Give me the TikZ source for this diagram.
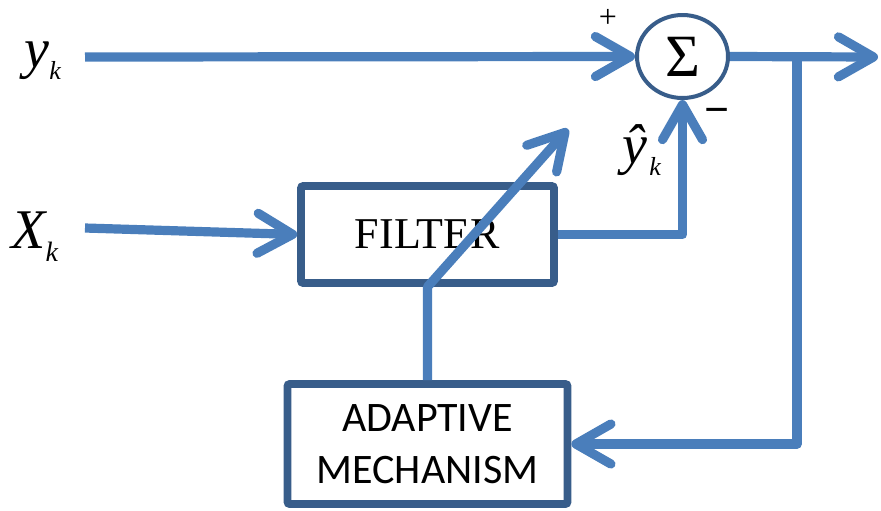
\documentclass[tikz,border=0pt]{standalone}
\usepackage{fontspec}
\setmainfont{Liberation Serif}
\newfontfamily\calibri{Carlito}
\usetikzlibrary{arrows.meta,shapes.geometric}
\definecolor{lineblue}{RGB}{74,126,187}
\definecolor{boxblue}{RGB}{56,93,138}

\begin{document}
\begin{tikzpicture}[x=0.5pt,y=-0.5pt,
  signal/.style={draw=lineblue,line width=4.6pt,line join=round},
  sigarrow/.style={signal,-{Straight Barb[round,length=17.5pt,width=20pt]}},
  block/.style={draw=boxblue,line width=3.8pt,rounded corners=1pt,inner sep=0pt,fill=white},
  lbl/.style={inner sep=0pt,anchor=base west,font=\fontsize{28}{28}\selectfont\itshape}]
\useasboundingbox (0,0) rectangle (881,510);

% blocks
\node[block,minimum width=126.5pt,minimum height=48.5pt,
  font=\fontsize{22}{22}\selectfont] (filter) at (427.5,234.5) {FILTER};
\node[block,minimum width=140pt,minimum height=60pt,align=center,
  font=\calibri\fontsize{21}{26}\selectfont] (adapt) at (427.5,444) {ADAPTIVE\\MECHANISM};
\node[ellipse,draw=boxblue,line width=2pt,minimum width=45.5pt,minimum height=41.5pt,
  inner sep=0pt,font=\fontsize{30}{30}\selectfont] (sum) at (682.5,56.5) {\raisebox{-3pt}{Σ}};

% labels
\node[lbl] (ylab) at (24,67) {y\raisebox{-6pt}{\fontsize{13}{13}\selectfont k}};
\node[lbl] (xlab) at (11,248) {X\raisebox{-6.5pt}{\fontsize{14}{14}\selectfont k}};
\node[lbl] (yhat) at (622,163) {ŷ\kern1pt\raisebox{-6pt}{\fontsize{13}{13}\selectfont k}};
\node[inner sep=0pt,font=\fontsize{16}{16}\selectfont] (plus) at (608,18) {+};
\node[inner sep=0pt,font=\fontsize{22}{22}\selectfont\bfseries] (minus) at (717,116) {−};

% signal paths
\coordinate (yin) at (85,57);
\coordinate (xin) at (85,228);
\coordinate (yout) at (878,57);
\coordinate (branch) at (797,57);
\coordinate (tunetip) at (568,129);

\draw[sigarrow] (yin) -- (sum.west);
\draw[sigarrow] (sum.east) -- (yout);
\draw[sigarrow] (branch) |- (adapt.east);
\draw[sigarrow] (xin) -- (filter.west);
\draw[sigarrow] (filter.east) -| (sum.south);
\draw[sigarrow] (adapt.north) -- (filter.south) -- (tunetip);
\end{tikzpicture}
\end{document}
